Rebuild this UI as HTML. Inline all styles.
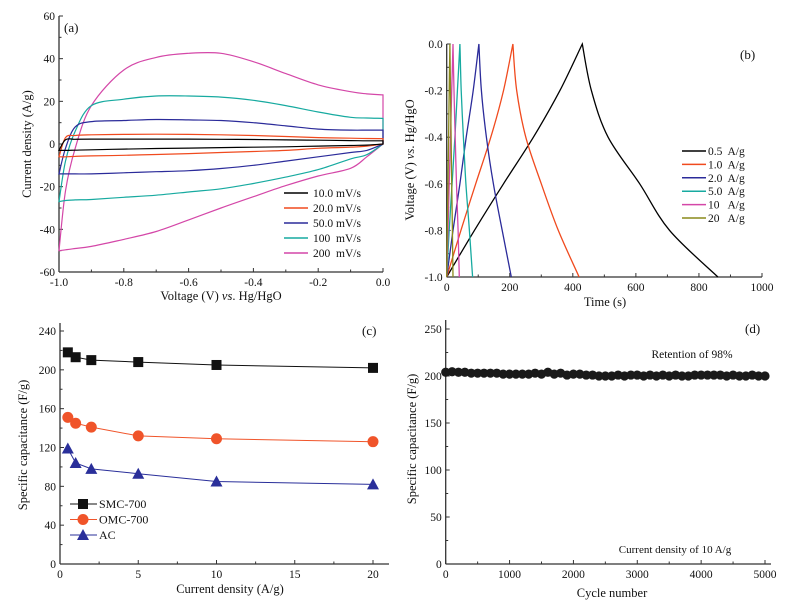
<!DOCTYPE html>
<html><head><meta charset="utf-8"><style>
html,body{margin:0;padding:0;background:#fff;}
svg{display:block;font-family:"Liberation Serif",serif;}
text{white-space:pre;}
</style></head><body>
<svg id="fig" width="796" height="607" viewBox="0 0 796 607" xmlns="http://www.w3.org/2000/svg"></svg>
<script>
// ---------- Panel (a) CV data ----------
const cvVolt = [-1.0,-0.98,-0.95,-0.9,-0.8,-0.7,-0.6,-0.5,-0.4,-0.3,-0.2,-0.1,-0.05,0];
const cvLabels = ["10.0 mV/s","20.0 mV/s","50.0 mV/s","100  mV/s","200  mV/s"];
const cvUp10  = [-3,2,2.2,2.3,2.3,2.3,2.3,2.2,2.1,1.9,1.8,1.6,1.5,1.5];
const cvLo10  = [-3,-3,-2.9,-2.7,-2.4,-2.1,-1.9,-1.7,-1.5,-1.3,-1.0,-0.7,-0.5,0];
const cvUp20  = [-6,3,4,4.3,4.5,4.6,4.5,4.3,4,3.5,3,2.7,2.6,2.5];
const cvLo20  = [-6,-6,-5.8,-5.6,-5.3,-4.9,-4.5,-4,-3.5,-3,-2,-1.5,-1,0];
const cvUp50  = [-14,-2,8,10.5,11,11.5,11.3,11,10,8.5,7,6.5,6.5,6.5];
const cvLo50  = [-14,-14,-14,-14,-13.5,-13,-12.5,-11.5,-10,-8,-6,-4,-3,0];
const cvUp100 = [-27,-8,6,18,21,22.5,22.5,22,20.5,18,15,12.5,12.2,12];
const cvLo100 = [-27,-26.5,-26.2,-26,-25,-24,-22.5,-21,-18.5,-15.5,-12,-7,-5,0];
const cvUp200 = [-50,-22,-2,18,34.7,40.6,42.5,42.5,38.6,33,27.7,24.5,23.5,23];
const cvLo200 = [-50,-49.6,-49,-48,-44.7,-41,-35.6,-30,-24.7,-19.5,-15,-11.4,-6,0];
const cvColors = ["#000000","#f04a1e","#2b2b9a","#17aaa0","#d447a8"];

// ---------- Panel (b) GCD data ----------
const gcdVolt = [-1.0,-0.8,-0.6,-0.4,-0.2,0];
const gcdLabels = ["0.5  A/g","1.0  A/g","2.0  A/g","5.0  A/g","10   A/g","20   A/g"];
const gcdCh05 = [0,88,180,275,359,430];
const gcdDis05 = [860,707,612,512,459,430];
const gcdCh1 = [0,45,92,140,180,210];
const gcdDis1 = [420,354,300,251,222,210];
const gcdCh2 = [0,20,42,62,84,102];
const gcdDis2 = [205,176,148,126,110,102];
const gcdCh5 = [0,8,17,26,34,42];
const gcdDis5 = [82,72,61,53,46,42];
const gcdCh10 = [0,4,8,12,16,20];
const gcdDis10 = [40,36,31,27,23,20];
const gcdCh20 = [0,2,4,6,8,10];
const gcdDis20 = [20,18,16,14,12,10];
const gcdColors = ["#000000","#f04a1e","#2b2b9a","#17aaa0","#d447a8","#8a8a1a"];

// ---------- Panel (c) rate data ----------
const rateX = [0.5,1,2,5,10,20];
const rateSMC = [218,213,210,208,205,202];
const rateOMC = [151,145,141,132,129,126];
const rateAC = [119,104,98,93,85,82];

// ---------- Panel (d) cycling data ----------
const cycN = [0,100,200,300,400,500,600,700,800,900,1000,1100,1200,1300,1400,1500,1600,1700,1800,1900,2000,2100,2200,2300,2400,2500,2600,2700,2800,2900,3000,3100,3200,3300,3400,3500,3600,3700,3800,3900,4000,4100,4200,4300,4400,4500,4600,4700,4800,4900,5000];
const cycC = [204,204.5,204,204,203,203,203,203,203,202,202,202,202,202,203,202,204,202,203,201,202,202,201,201,200,200,200,201,200,201,201,200,201,200,201,200,201,200,200,201,201,201,201,201,200,201,200,200,201,200,200];

const NS = "http://www.w3.org/2000/svg";
const svg = document.getElementById("fig");
function el(tag, attrs, parent){
  const e = document.createElementNS(NS, tag);
  for (const k in attrs) e.setAttribute(k, attrs[k]);
  (parent||svg).appendChild(e);
  return e;
}
function txt(x,y,s,size,anchor,parent){
  const t = el("text",{x:x,y:y,"font-size":size,"text-anchor":anchor||"middle",fill:"#111"},parent);
  t.textContent = s; return t;
}
function lin(d0,d1,p0,p1){ return v => p0 + (v-d0)/(d1-d0)*(p1-p0); }

function axes(g, X, Y, xl, xr, yb, yt, xTicks, xLabels, xMinor, yTicks, yLabels, yMinor){
  const a = el("line",{x1:xl,y1:yb,x2:xr,y2:yb,stroke:"#333","stroke-width":1.3},g);
  
  
  const b = el("line",{x1:xl,y1:yb,x2:xl,y2:yt,stroke:"#333","stroke-width":1.3},g);
  
  
  xTicks.forEach((v,i)=>{
    el("line",{x1:X(v),y1:yb,x2:X(v),y2:yb-4,stroke:"#333"},g);
    const t = txt(X(v),yb+14,xLabels[i],11.5,"middle",g);
    
    
  });
  xMinor.forEach(v=>el("line",{x1:X(v),y1:yb,x2:X(v),y2:yb-2.5,stroke:"#333"},g));
  yTicks.forEach((v,i)=>{
    el("line",{x1:xl,y1:Y(v),x2:xl+4,y2:Y(v),stroke:"#333"},g);
    const t = txt(xl-4,Y(v)+4,yLabels[i],11.5,"end",g);
    
    
  });
  yMinor.forEach(v=>el("line",{x1:xl,y1:Y(v),x2:xl+2.5,y2:Y(v),stroke:"#333"},g));
}
function pathFrom(xs, ys, X, Y){
  return xs.map((v,i)=>(i?"L":"M")+X(v).toFixed(1)+","+Y(ys[i]).toFixed(1)).join("");
}
// Catmull-Rom smoothed path; first command M (or L if cont)
function smooth(xs, ys, X, Y, cont){
  const p = xs.map((v,i)=>[X(v),Y(ys[i])]);
  let d = (cont?"L":"M")+p[0][0].toFixed(1)+","+p[0][1].toFixed(1);
  for(let i=0;i<p.length-1;i++){
    const p0=p[i-1]||p[i], p1=p[i], p2=p[i+1], p3=p[i+2]||p[i+1];
    const c1=[p1[0]+(p2[0]-p0[0])/6, p1[1]+(p2[1]-p0[1])/6];
    const c2=[p2[0]-(p3[0]-p1[0])/6, p2[1]-(p3[1]-p1[1])/6];
    d += "C"+c1[0].toFixed(1)+","+c1[1].toFixed(1)+" "+c2[0].toFixed(1)+","+c2[1].toFixed(1)+" "+p2[0].toFixed(1)+","+p2[1].toFixed(1);
  }
  return d;
}

// ================= Panel (a) =================
{
  const g = el("g",{});
  
  
  const X = lin(-1,0,59,383), Y = lin(-60,60,272,16);
  const yT=[-60,-40,-20,0,20,40,60];
  axes(g,X,Y,59,383,272,16,[-1,-0.8,-0.6,-0.4,-0.2,0],["-1.0","-0.8","-0.6","-0.4","-0.2","0.0"],[-0.9,-0.7,-0.5,-0.3,-0.1],yT,yT.map(String),[-50,-30,-10,10,30,50]);
  const ups=[cvUp10,cvUp20,cvUp50,cvUp100,cvUp200], los=[cvLo10,cvLo20,cvLo50,cvLo100,cvLo200];
  for(let s=4;s>=0;s--){
    const rv = cvVolt.slice().reverse(), rl = los[s].slice().reverse();
    const d = smooth(cvVolt,ups[s],X,Y,false)+smooth(rv,rl,X,Y,true)+"Z";
    const p = el("path",{d:d,fill:"none",stroke:cvColors[s],"stroke-width":1.2},g);
    
    
  }
  cvLabels.forEach((lab,i)=>{
    const y = 193+i*15;
    const l = el("line",{x1:284,y1:y,x2:308,y2:y,stroke:cvColors[i],"stroke-width":1.5},g);
    
    
    const t = txt(313,y+4,lab,11.5,"start",g);
    
    
  });
  const pa = txt(64,32,"(a)",13,"start",g);
  
  
  const xt = el("text",{x:221,y:300,"font-size":12.5,"text-anchor":"middle",fill:"#111"},g);
  xt.innerHTML = 'Voltage (V) <tspan font-style="italic">vs</tspan>. Hg/HgO';
  
  
  const yt = txt(0,0,"Current density (A/g)",12.5,"middle",g);
  yt.setAttribute("transform","translate(31,144) rotate(-90)");
  
  
}

// ================= Panel (b) =================
{
  const g = el("g",{});
  
  
  const X = lin(0,1000,446.7,762), Y = lin(-1,0,277,44);
  axes(g,X,Y,446.7,762,277,44,[0,200,400,600,800,1000],["0","200","400","600","800","1000"],[100,300,500,700,900],[-1,-0.8,-0.6,-0.4,-0.2,0],["-1.0","-0.8","-0.6","-0.4","-0.2","0.0"],[-0.9,-0.7,-0.5,-0.3,-0.1]);
  const ch=[gcdCh05,gcdCh1,gcdCh2,gcdCh5,gcdCh10,gcdCh20], dis=[gcdDis05,gcdDis1,gcdDis2,gcdDis5,gcdDis10,gcdDis20];
  for(let s=0;s<6;s++){
    const rv = gcdVolt.slice().reverse(), rd = dis[s].slice().reverse();
    const d = smooth(ch[s],gcdVolt,X,Y,false)+smooth(rd,rv,X,Y,true);
    const p = el("path",{d:d,fill:"none",stroke:gcdColors[s],"stroke-width":1.3},g);
    
    
  }
  gcdLabels.forEach((lab,i)=>{
    const y = 151+i*13.4;
    const l = el("line",{x1:682,y1:y,x2:706,y2:y,stroke:gcdColors[i],"stroke-width":1.5},g);
    
    
    const t = txt(708,y+4,lab,11.5,"start",g);
    
    
  });
  const pb = txt(740,59,"(b)",13,"start",g);
  
  
  const xt = txt(605,306,"Time (s)",12.5,"middle",g);
  
  
  const yt = el("text",{"font-size":12.5,"text-anchor":"middle",fill:"#111",transform:"translate(414,160) rotate(-90)"},g);
  yt.innerHTML = 'Voltage (V) <tspan font-style="italic">vs</tspan>. Hg/HgO';
  
  
}

// ================= Panel (c) =================
{
  const g = el("g",{});
  
  
  const X = lin(0,20,60,373), Y = lin(0,240,564,331);
  axes(g,X,Y,60,389,564,323,[0,5,10,15,20],["0","5","10","15","20"],[2.5,7.5,12.5,17.5],[0,40,80,120,160,200,240],["0","40","80","120","160","200","240"],[20,60,100,140,180,220]);
  const series=[rateSMC,rateOMC,rateAC], cols=["#111111","#f0542a","#2a2f9a"], shapes=["sq","ci","tr"];
  function marker(x,y,sh,c){
    let m;
    if(sh==="sq") m=el("rect",{x:x-5,y:y-5,width:10,height:10,fill:c},g);
    else if(sh==="ci") m=el("circle",{cx:x,cy:y,r:5.5,fill:c},g);
    else m=el("path",{d:`M${x},${y-6}L${x+6},${y+5}L${x-6},${y+5}Z`,fill:c},g);
    return m;
  }
  series.forEach((ys,s)=>{
    const p = el("path",{d:pathFrom(rateX,ys,X,Y),fill:"none",stroke:cols[s],"stroke-width":1},g);
    
    
    rateX.forEach((v,i)=>{
      const m = marker(X(v),Y(ys[i]),shapes[s],cols[s]);
      
      
    });
  });
  ["SMC-700","OMC-700","AC"].forEach((lab,i)=>{
    const y = 504+i*15.5;
    el("line",{x1:70,y1:y,x2:97,y2:y,stroke:cols[i],"stroke-width":1},g);
    const m = marker(83,y,shapes[i],cols[i]);
    
    
    const t = txt(99,y+4,lab,12,"start",g);
    
    
  });
  const pc = txt(362,335,"(c)",13,"start",g);
  
  
  const xt = txt(230,593,"Current density (A/g)",12.5,"middle",g);
  
  
  const yt = txt(0,0,"Specific capacitance (F/g)",12.5,"middle",g);
  yt.setAttribute("transform","translate(27,445) rotate(-90)");
  
  
}

// ================= Panel (d) =================
{
  const g = el("g",{});
  
  
  const X = lin(0,5000,445.7,765), Y = lin(0,250,564,329);
  axes(g,X,Y,445.7,771,564,320,[0,1000,2000,3000,4000,5000],["0","1000","2000","3000","4000","5000"],[500,1500,2500,3500,4500],[0,50,100,150,200,250],["0","50","100","150","200","250"],[25,75,125,175,225]);
  cycN.forEach((n,i)=>{
    const c = el("circle",{cx:X(n),cy:Y(cycC[i]),r:4.6,fill:"#1a1a1a"},g);
    
    
  });
  const pd = txt(745,333,"(d)",13,"start",g);
  
  
  const r = txt(692,358,"Retention of 98%",11.5,"middle",g);
  
  
  const cd = txt(675,553,"Current density of 10 A/g",11,"middle",g);
  
  
  const xt = txt(612,597,"Cycle number",12.5,"middle",g);
  
  
  const yt = txt(0,0,"Specific capacitance (F/g)",12.5,"middle",g);
  yt.setAttribute("transform","translate(416,439) rotate(-90)");
  
  
}
</script>
</body></html>
